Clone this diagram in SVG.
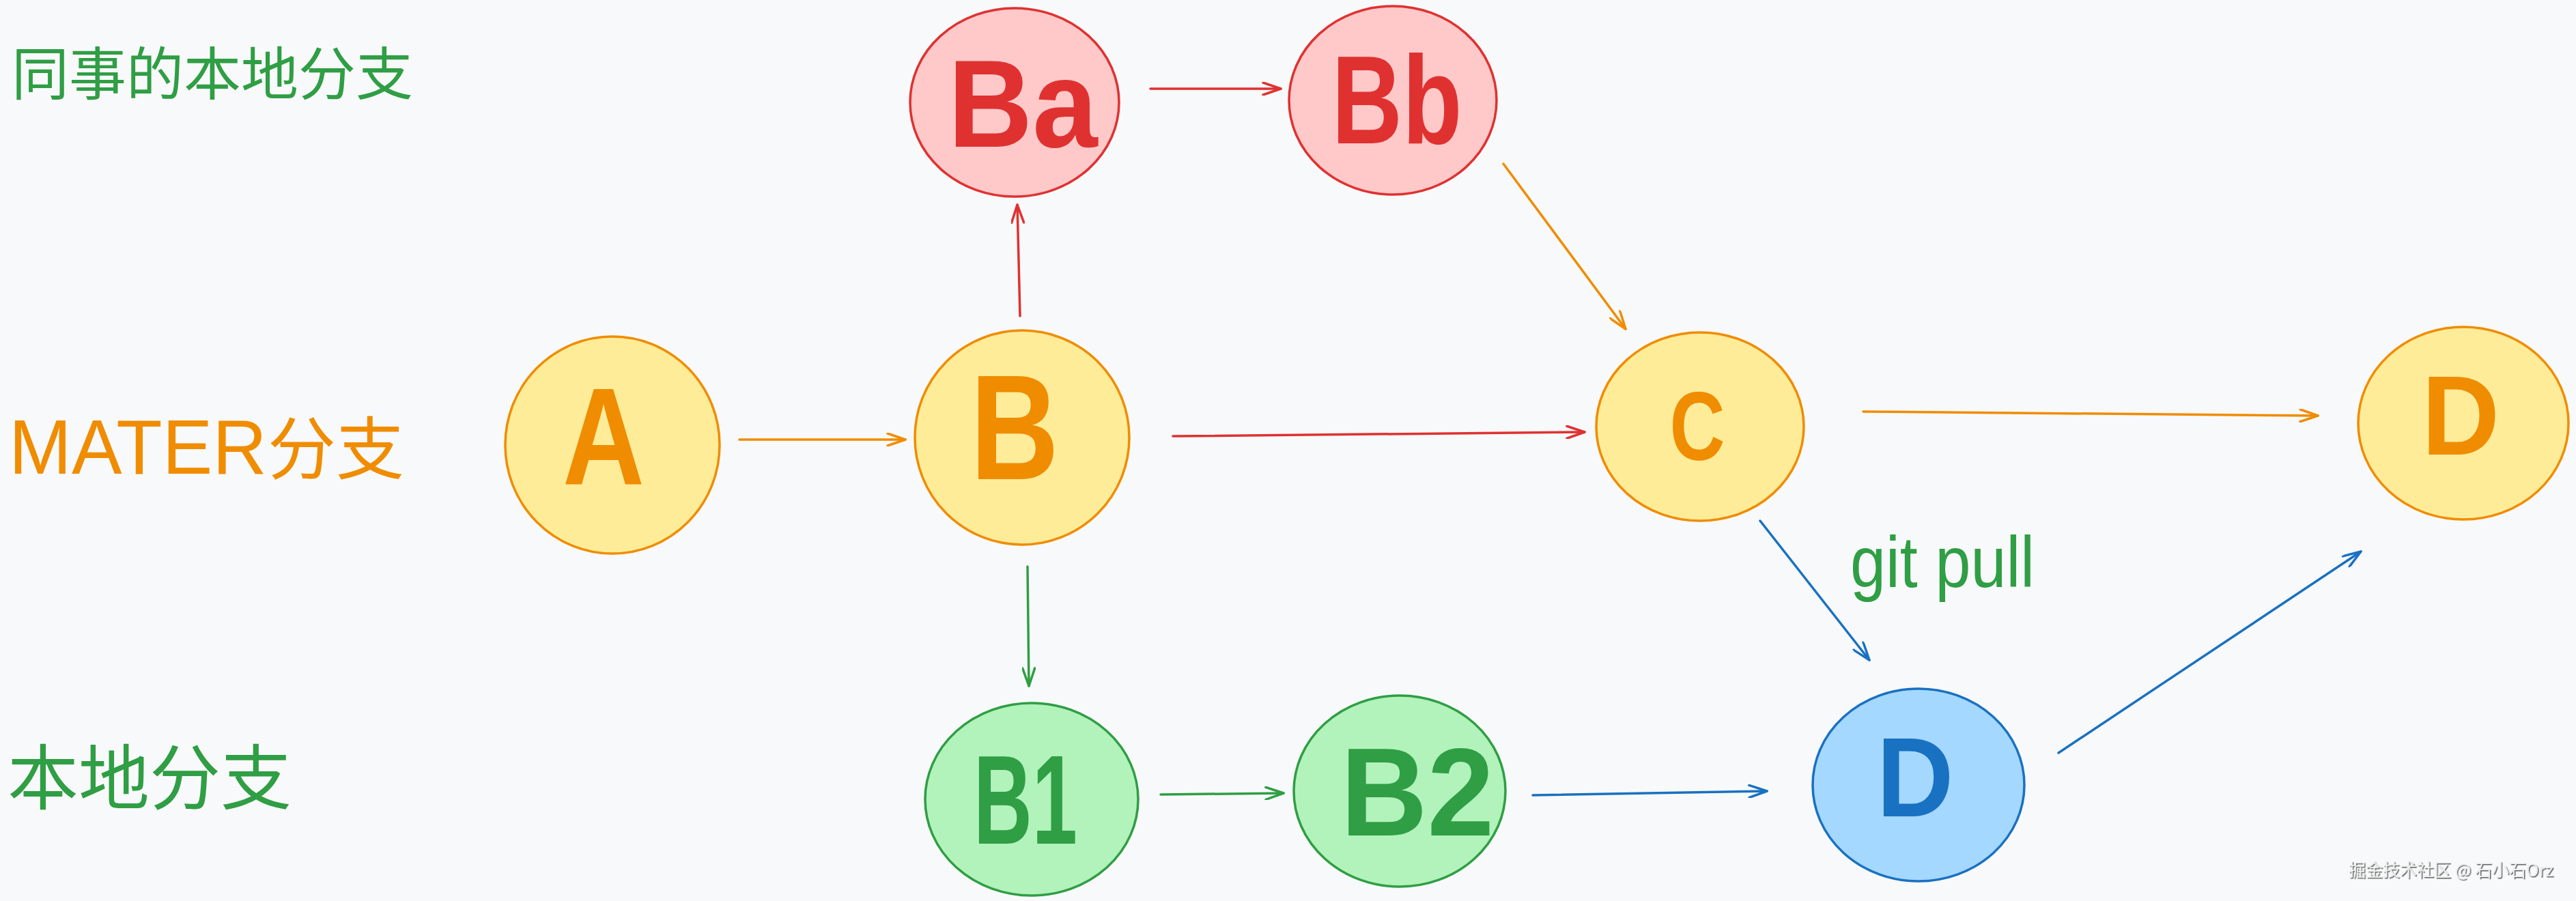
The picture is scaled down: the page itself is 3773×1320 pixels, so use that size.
<svg xmlns="http://www.w3.org/2000/svg" width="3773" height="1320" viewBox="0 0 3773 1320">
<defs>
<style>
.lbl{font-family:"Noto Sans CJK SC","Noto Sans",sans-serif}
.nt{font-family:"Liberation Sans",Arial,sans-serif;font-weight:bold;text-anchor:middle}
.red ellipse{fill:#ffc9c9;stroke:#e03131;stroke-width:3.5}
.red text{fill:#e03131}
.org ellipse{fill:#ffec99;stroke:#f08c00;stroke-width:3.5}
.org text{fill:#f08c00}
.grn ellipse{fill:#b2f2bb;stroke:#2f9e44;stroke-width:3.5}
.grn text{fill:#2f9e44}
.blu ellipse{fill:#a5d8ff;stroke:#1971c2;stroke-width:3.5}
.blu text{fill:#1971c2}
.c line{fill:none;stroke-width:3.5;stroke-linecap:round}
.cr{stroke:#e03131}
.co{stroke:#f08c00}
.cg{stroke:#2f9e44}
.cb{stroke:#1971c2}
</style>
<marker id="mr" markerUnits="userSpaceOnUse" viewBox="0 0 30 20" markerWidth="30" markerHeight="20" refX="28" refY="10" orient="auto"><path d="M2,1 L28,10 L2,19" fill="none" stroke="#e03131" stroke-width="3.5" stroke-linecap="round" stroke-linejoin="round"/></marker>
<marker id="mo" markerUnits="userSpaceOnUse" viewBox="0 0 30 20" markerWidth="30" markerHeight="20" refX="28" refY="10" orient="auto"><path d="M2,1 L28,10 L2,19" fill="none" stroke="#f08c00" stroke-width="3.5" stroke-linecap="round" stroke-linejoin="round"/></marker>
<marker id="mg" markerUnits="userSpaceOnUse" viewBox="0 0 30 20" markerWidth="30" markerHeight="20" refX="28" refY="10" orient="auto"><path d="M2,1 L28,10 L2,19" fill="none" stroke="#2f9e44" stroke-width="3.5" stroke-linecap="round" stroke-linejoin="round"/></marker>
<marker id="mb" markerUnits="userSpaceOnUse" viewBox="0 0 30 20" markerWidth="30" markerHeight="20" refX="28" refY="10" orient="auto"><path d="M2,1 L28,10 L2,19" fill="none" stroke="#1971c2" stroke-width="3.5" stroke-linecap="round" stroke-linejoin="round"/></marker>
<filter id="sh" x="-5%" y="-30%" width="110%" height="160%"><feDropShadow dx="1.5" dy="1.5" stdDeviation="0.6" flood-color="#555555" flood-opacity="0.9"/></filter>
</defs>
<rect width="3773" height="1320" fill="#f8f9fa"/>

<g id="labels">
<text class="lbl" x="17" y="139" font-size="84" fill="#2f9e44">同事的本地分支</text>
<text x="13" y="694" font-size="100" fill="#f08c00"><tspan font-family="Liberation Sans, Arial, sans-serif" font-size="114" textLength="378" lengthAdjust="spacingAndGlyphs">MATER</tspan><tspan x="392" font-family="Noto Sans CJK SC, sans-serif">分支</tspan></text>
<text class="lbl" x="11" y="1178" font-size="104" fill="#2f9e44">本地分支</text>
</g>

<g id="connectors" class="c">
<line class="co" x1="1083" y1="644" x2="1326" y2="644" marker-end="url(#mo)"/>
<line class="cr" x1="1494" y1="463" x2="1490" y2="300" stroke-width="2.5" marker-end="url(#mr)"/>
<line class="cr" x1="1685" y1="130" x2="1876" y2="130" stroke-width="5" marker-end="url(#mr)"/>
<line class="co" x1="2202" y1="240" x2="2381" y2="482" marker-end="url(#mo)"/>
<line class="cr" x1="1718" y1="639" x2="2321" y2="633" marker-end="url(#mr)"/>
<line class="co" x1="2729" y1="603" x2="3395" y2="609" marker-end="url(#mo)"/>
<line class="cg" x1="1505" y1="830" x2="1507" y2="1005" stroke-width="2.5" marker-end="url(#mg)"/>
<line class="cg" x1="1700" y1="1164" x2="1880" y2="1162" marker-end="url(#mg)"/>
<line class="cb" x1="2245" y1="1165" x2="2588" y2="1159" marker-end="url(#mb)"/>
<line class="cb" x1="2578" y1="763" x2="2738" y2="967" marker-end="url(#mb)"/>
<line class="cb" x1="3015" y1="1103" x2="3458" y2="808" marker-end="url(#mb)"/>
</g>

<g id="git-pull">
<text x="2710" y="860" font-family="Liberation Sans, Arial, sans-serif" font-size="105" fill="#2f9e44" textLength="270" lengthAdjust="spacingAndGlyphs">git pull</text>
</g>

<g id="node-Ba" class="red">
<ellipse cx="1486" cy="150" rx="153" ry="138"/>
<text class="nt" x="1498" y="215" font-size="182" textLength="219" lengthAdjust="spacingAndGlyphs">Ba</text>
</g>
<g id="node-Bb" class="red">
<ellipse cx="2040" cy="147" rx="152" ry="138"/>
<text class="nt" x="2046" y="210" font-size="183" textLength="191" lengthAdjust="spacingAndGlyphs">Bb</text>
</g>
<g id="node-A" class="org">
<ellipse cx="897" cy="652" rx="157" ry="159"/>
<text class="nt" x="884" y="710" font-size="202" textLength="120" lengthAdjust="spacingAndGlyphs">A</text>
</g>
<g id="node-B" class="org">
<ellipse cx="1497" cy="641" rx="157" ry="157"/>
<text class="nt" x="1486" y="702" font-size="219" textLength="130" lengthAdjust="spacingAndGlyphs">B</text>
</g>
<g id="node-C" class="org">
<ellipse cx="2490" cy="625" rx="152" ry="138"/>
<text class="nt" x="2486" y="674" font-size="142" textLength="81" lengthAdjust="spacingAndGlyphs">C</text>
</g>
<g id="node-D" class="org">
<ellipse cx="3608" cy="620" rx="154" ry="141"/>
<text class="nt" x="3604" y="666" font-size="166" textLength="114" lengthAdjust="spacingAndGlyphs">D</text>
</g>
<g id="node-B1" class="grn">
<ellipse cx="1511" cy="1171" rx="156" ry="141"/>
<text class="nt" x="1502" y="1236" font-size="186" textLength="152" lengthAdjust="spacingAndGlyphs">B1</text>
</g>
<g id="node-B2" class="grn">
<ellipse cx="2050" cy="1159" rx="155" ry="140"/>
<text class="nt" x="2076" y="1224" font-size="183" textLength="225" lengthAdjust="spacingAndGlyphs">B2</text>
</g>
<g id="node-D-local" class="blu">
<ellipse cx="2810" cy="1150" rx="155" ry="141"/>
<text class="nt" x="2805" y="1196" font-size="165" textLength="113" lengthAdjust="spacingAndGlyphs">D</text>
</g>

<g id="watermark">
<text x="3440" y="1284" font-family="Noto Sans CJK SC, sans-serif" font-size="26" fill="#eeeeee" filter="url(#sh)" textLength="300" lengthAdjust="spacingAndGlyphs">掘金技术社区 @ 石小石Orz</text>
</g>
</svg>
